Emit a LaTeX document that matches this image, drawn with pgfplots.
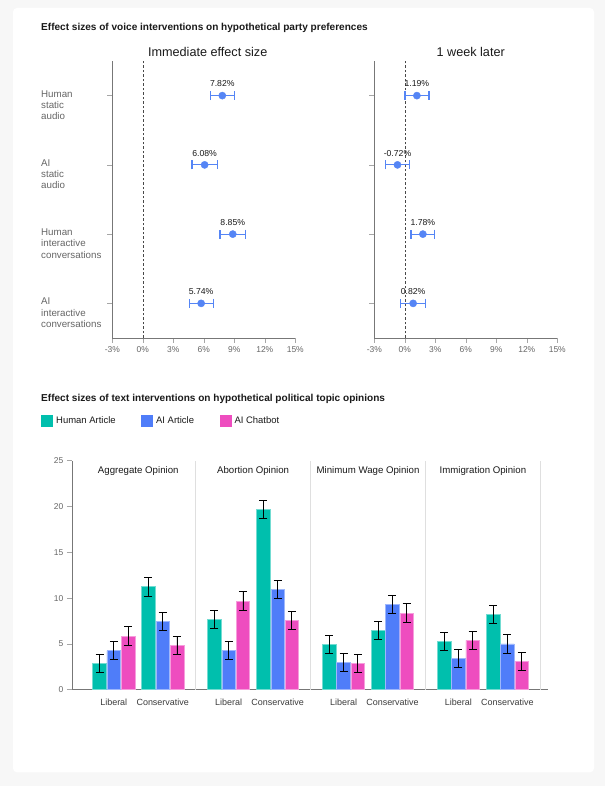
\documentclass[border=0pt]{standalone}
\usepackage{fontspec}
\setmainfont{Liberation Sans}
\usepackage{pgfplots}
\pgfplotsset{compat=1.18}
\usepackage{pgfplotstable}

\definecolor{hteal}{HTML}{00BFAD}
\definecolor{ablue}{HTML}{4F7DF9}
\definecolor{cpink}{HTML}{EE4DBF}
\definecolor{mblue}{HTML}{5585F5}
\definecolor{axgray}{HTML}{777777}
\definecolor{lblgray}{HTML}{666666}
\definecolor{txt}{HTML}{1A1A1A}

% voice interventions: y = row (3 = top)
\pgfplotstableread{
x     y  ex   lab
7.82  3  1.18 7.82
6.08  2  1.25 6.08
8.85  1  1.25 8.85
5.74  0  1.18 5.74
}\immediatetab
\pgfplotstableread{
x     y  ex   lab
1.19  3  1.18 1.19
-0.72 2  1.18 -0.72
1.78  1  1.18 1.78
0.82  0  1.21 0.82
}\weektab

% text interventions: x = panel + offset
\pgfplotstableread{
x      y     e
-0.337 2.85  1.0
0.089  11.24 1.0
0.663  7.69  1.0
1.089  19.65 1.0
1.663  4.96  1.0
2.089  6.48  1.0
2.663  5.28  1.0
3.089  8.19  1.0
}\humanart
\pgfplotstableread{
x      y     e
-0.213 4.26  1.0
0.213  7.47  1.0
0.787  4.26  1.0
1.213  10.96 1.0
1.787  2.99  1.0
2.213  9.28  1.0
2.787  3.39  1.0
3.213  4.99  1.0
}\aiart
\pgfplotstableread{
x      y     e
-0.089 5.86  1.0
0.337  4.85  1.0
0.911  9.68  1.0
1.337  7.58  1.0
1.911  2.88  1.0
2.337  8.37  1.0
2.911  5.39  1.0
3.337  3.10  1.0
}\aichat

\pgfplotsset{
  voice/.style={
    anchor=south west,
    width=183bp, height=277bp, scale only axis,
    xmin=-3, xmax=15, ymin=-0.5, ymax=3.5,
    axis x line=bottom, axis y line=left,
    axis line style={-, draw=axgray, line width=0.7bp},
    xtick={-3,0,3,6,9,12,15},
    xticklabels={-3\%,0\%,3\%,6\%,9\%,12\%,15\%},
    ytick={0,1,2,3},
    tick align=outside, major tick length=5bp,
    tick style={draw=gray!70, line width=0.6bp},
    x tick label style={font=\fontsize{8.5}{10}\selectfont, text=lblgray},
    clip=false,
  },
  dot/.style={
    only marks, mark=*, mark size=3.6bp, color=mblue,
    nodes near coords={\pgfplotspointmeta\%},
    point meta=explicit symbolic,
    every node near coord/.style={font=\fontsize{8.7}{10}\selectfont,
      text=txt, anchor=south, inner sep=0pt, yshift=8.5bp},
    error bars/.cd, x dir=both, x explicit,
    error bar style={line width=1.2bp, mblue},
    error mark options={rotate=90, mark size=4.5bp, line width=1.2bp, mblue},
  },
  bars/.style={
    ybar, bar width=0.119, bar shift=0pt,
    fill=#1, draw=#1!55!white, line width=0.5bp,
    error bars/.cd, y dir=both, y explicit,
    error bar style={black, line width=0.8bp},
    error mark options={rotate=90, black, mark size=4bp, line width=0.8bp},
  },
}

\begin{document}
\begin{tikzpicture}
\fill[gray!6] (0,0) rectangle (605bp,786bp);
\fill[white, rounded corners=4bp] (13bp,13.7bp) rectangle (594bp,778bp);

\node[anchor=west, inner sep=0pt, font=\bfseries\fontsize{10.1}{12}\selectfont, text=txt]
  at (41bp,757.7bp) {Effect sizes of voice interventions on hypothetical party preferences};
\node[font=\fontsize{12.7}{14}\selectfont, text=txt] at (207.7bp,734.3bp) {Immediate effect size};
\node[font=\fontsize{12.7}{14}\selectfont, text=txt] at (470.7bp,734.3bp) {1 week later};

\begin{axis}[voice, at={(112.3bp,448bp)},
  yticklabels={{AI\\interactive\\conversations},{Human\\interactive\\conversations},{AI\\static\\audio},{Human\\static\\audio}},
  y tick label style={font=\fontsize{9.8}{11.3}\selectfont, text=lblgray,
    anchor=north west, align=left, inner sep=0pt, xshift=-66.3bp, yshift=5.5bp},
]
\draw[txt!80, dash pattern=on 2.5bp off 2bp, line width=0.6bp] (axis cs:0,-0.5) -- (axis cs:0,3.5);
\addplot[dot] table[x=x, y=y, x error=ex, meta=lab] {\immediatetab};
\end{axis}

\begin{axis}[voice, at={(374.3bp,448bp)}, yticklabels={}]
\draw[txt!80, dash pattern=on 2.5bp off 2bp, line width=0.6bp] (axis cs:0,-0.5) -- (axis cs:0,3.5);
\addplot[dot] table[x=x, y=y, x error=ex, meta=lab] {\weektab};
\end{axis}

\node[anchor=west, inner sep=0pt, font=\bfseries\fontsize{10.1}{12}\selectfont, text=txt]
  at (41bp,386.7bp) {Effect sizes of text interventions on hypothetical political topic opinions};

\begin{axis}[
  at={(72.3bp,96.3bp)}, anchor=south west,
  width=475.4bp, height=229bp, scale only axis,
  xmin=-0.574, xmax=3.564, ymin=0, ymax=25,
  axis x line=bottom, axis y line=left,
  axis line style={-, draw=axgray, line width=0.7bp},
  ytick={0,5,10,15,20,25},
  xtick={-0.213,0.213,0.787,1.213,1.787,2.213,2.787,3.213},
  xticklabels={Liberal,Conservative,Liberal,Conservative,Liberal,Conservative,Liberal,Conservative},
  tick align=outside, major tick length=5.5bp,
  ytick style={draw=gray!70, line width=0.6bp},
  xtick style={draw=none},
  x tick label style={font=\fontsize{9}{10}\selectfont, text=txt!85},
  y tick label style={font=\fontsize{8.5}{10}\selectfont, text=lblgray},
  /pgf/number format/assume math mode=true,
  extra x ticks={0.5,1.5,2.5,3.5}, extra x tick labels={},
  extra x tick style={grid=major, major grid style={draw=gray!25, line width=0.8bp}},
  clip=false,
  legend columns=3,
  legend image code/.code={\draw[#1, draw=none] (0bp,-6bp) rectangle (12bp,6bp);},
  legend style={at={(-0.0658,1.1747)}, anchor=west, draw=none, fill=none,
    inner sep=0pt, font=\fontsize{9.5}{11}\selectfont, text=txt,
    nodes={inner sep=1bp},
    /tikz/every odd column/.append style={column sep=2bp},
    /tikz/every even column/.append style={column sep=24.5bp}},
]
\addplot[bars=hteal] table[x=x, y=y, y error=e] {\humanart};
\addlegendentry{Human Article}
\addplot[bars=ablue] table[x=x, y=y, y error=e] {\aiart};
\addlegendentry{AI Article}
\addplot[bars=cpink] table[x=x, y=y, y error=e] {\aichat};
\addlegendentry{AI Chatbot}
\node[font=\fontsize{9.7}{11}\selectfont, text=txt] at (axis cs:0,23.9) {Aggregate Opinion};
\node[font=\fontsize{9.7}{11}\selectfont, text=txt] at (axis cs:1,23.9) {Abortion Opinion};
\node[font=\fontsize{9.7}{11}\selectfont, text=txt] at (axis cs:2,23.9) {Minimum Wage Opinion};
\node[font=\fontsize{9.7}{11}\selectfont, text=txt] at (axis cs:3,23.9) {Immigration Opinion};
\end{axis}
\end{tikzpicture}
\end{document}
